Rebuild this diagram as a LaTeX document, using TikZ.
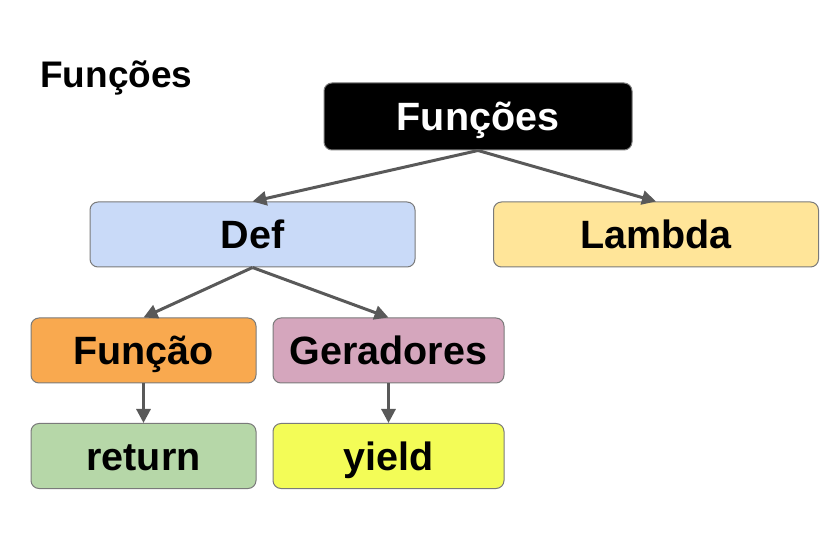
\documentclass[tikz,border=0pt]{standalone}
\usepackage{fontspec}
\setmainfont{Liberation Sans}
\usetikzlibrary{arrows.meta}
\definecolor{cdef}{HTML}{C9DAF8}
\definecolor{clam}{HTML}{FFE599}
\definecolor{cfun}{HTML}{F9A94F}
\definecolor{cger}{HTML}{D5A6BD}
\definecolor{cret}{HTML}{B6D7A8}
\definecolor{cyie}{HTML}{F3FC57}
\definecolor{cline}{HTML}{595959}
\tikzset{
  box/.style={draw=cline!80, line width=1pt, rounded corners=8pt, inner sep=0pt,
    font=\fontsize{39.5}{42}\selectfont\bfseries, text=black,
    text height=28.3pt, text depth=0pt},
  wide/.style={box, minimum width=325pt, minimum height=65pt},
  small/.style={box, minimum width=225pt, minimum height=65pt},
  mid/.style={box, minimum width=231pt, minimum height=65pt},
  conn/.style={draw=cline, line width=3pt, -{Triangle[length=14pt,width=14pt]}}
}
\begin{document}
\begin{tikzpicture}[x=1pt,y=1pt]
\useasboundingbox (0,0) rectangle (836,-537);
\node[anchor=base west, inner sep=0pt, font=\fontsize{37}{40}\selectfont\bfseries] (title) at (40,-88) {Funções};
\node[box, fill=black, text=white, minimum width=308pt, minimum height=67pt] (top) at (478,-116.5) {Funções};
\node[wide, fill=cdef] (def) at (252.5,-234.5) {Def};
\node[wide, fill=clam] (lam) at (656,-234.5) {Lambda};
\node[small, fill=cfun] (fun) at (143.5,-350.5) {Função};
\node[mid, fill=cger] (ger) at (388.5,-350.5) {Geradores};
\node[small, fill=cret] (ret) at (143.5,-456) {return};
\node[mid, fill=cyie] (yie) at (388.5,-456) {yield};
\draw[conn] (top.south) -- (def.north);
\draw[conn] (top.south) -- (lam.north);
\draw[conn] (def.south) -- (fun.north);
\draw[conn] (def.south) -- (ger.north);
\draw[conn] (fun.south) -- (ret.north);
\draw[conn] (ger.south) -- (yie.north);
\end{tikzpicture}
\end{document}
